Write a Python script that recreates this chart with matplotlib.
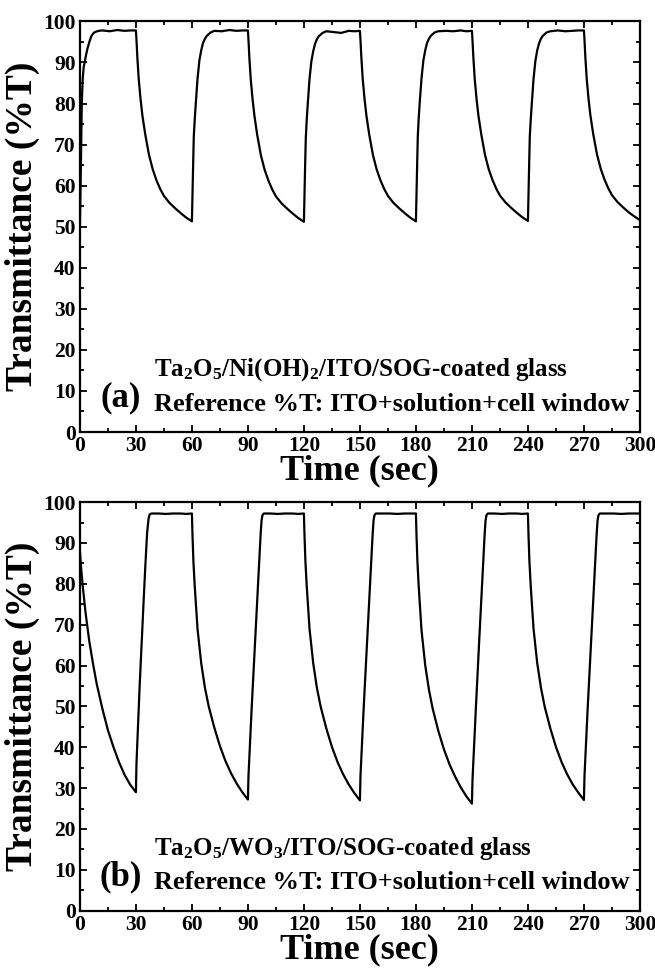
import numpy as np
import matplotlib
matplotlib.use("Agg")
import matplotlib.pyplot as plt

plt.rcParams['font.family'] = ['Liberation Serif', 'DejaVu Serif']
plt.rcParams['font.weight'] = 'bold'
plt.rcParams['mathtext.fontset'] = 'custom'
plt.rcParams['mathtext.rm'] = 'Liberation Serif:bold'
plt.rcParams['mathtext.bf'] = 'Liberation Serif:bold'
plt.rcParams['mathtext.it'] = 'Liberation Serif:bold'

# ---- panel (a): Ta2O5/Ni(OH)2 ----
# bleaching steps (start at 0, 60, 120, 180, 240 s)
a_rise_start = [0, 60, 120, 180, 240]
a_rise_dt = [0, 0.3, 0.6, 1, 1.5, 2, 3, 4, 5, 6, 7, 8, 10, 12, 16, 20, 24, 27, 30]
a_rise = [
    [50.0, 58, 67, 80, 86, 88.8, 91.2, 93.3, 94.9, 96.3, 97.0, 97.4, 97.7, 97.8, 97.6, 97.9, 97.7, 97.8, 97.8],
    [51.3, 58, 64, 72, 76, 79.5, 86, 90.5, 93.0, 94.8, 95.8, 96.5, 97.3, 97.7, 97.6, 97.9, 97.7, 97.8, 97.8],
    [51.2, 58, 64, 71.5, 76, 79.5, 86, 90.3, 92.8, 94.6, 95.7, 96.4, 97.2, 97.6, 97.4, 97.2, 97.7, 97.6, 97.7],
    [51.3, 58, 64, 72, 76.5, 80, 86.2, 90.5, 93.0, 94.8, 95.8, 96.5, 97.3, 97.6, 97.7, 97.6, 97.8, 97.6, 97.7],
    [51.4, 58, 64, 72, 76, 79.5, 86, 90.4, 93.0, 94.7, 95.8, 96.5, 97.3, 97.6, 97.8, 97.6, 97.7, 97.8, 97.8],
]
# colouring steps (start at 30, 90, 150, 210, 270 s)
a_decay_start = [30, 90, 150, 210, 270]
a_decay_dt = [0, 0.3, 0.8, 1.5, 2.5, 3.5, 5, 7, 9, 11, 13, 15, 18, 21, 24, 27, 30]
a_decay = [
    [97.8, 95.5, 91, 86, 81, 77, 72.5, 67.5, 64.0, 61.3, 59.2, 57.5, 55.8, 54.5, 53.3, 52.2, 51.3],
    [97.8, 95.5, 91, 86, 81, 77, 72.3, 67.3, 63.8, 61.2, 59.1, 57.4, 55.7, 54.4, 53.2, 52.1, 51.2],
    [97.7, 95.4, 91, 86, 81, 77, 72.4, 67.4, 63.9, 61.3, 59.2, 57.5, 55.8, 54.5, 53.3, 52.2, 51.3],
    [97.7, 95.4, 91, 86, 81, 77, 72.5, 67.5, 64.0, 61.4, 59.3, 57.6, 55.9, 54.6, 53.4, 52.3, 51.4],
    [97.8, 95.5, 91, 86, 81, 77, 72.5, 67.6, 64.1, 61.5, 59.4, 57.7, 56.0, 54.7, 53.5, 52.5, 51.6],
]

# ---- panel (b): Ta2O5/WO3 ----
b_decay_start = [0, 60, 120, 180, 240]
b_decay_dt = [0, 0.3, 0.8, 1.5, 3, 5, 7, 9, 12, 15, 18, 21, 24, 27, 30]
b_decay = [
    [88.0, 86, 83, 79.5, 73, 66, 60.5, 55.5, 49.5, 44.2, 40.0, 36.3, 33.2, 30.8, 29.0],
    [97.2, 92, 85.5, 79.5, 69, 60.5, 54.5, 50.0, 44.8, 40.3, 36.6, 33.6, 31.1, 29.0, 27.2],
    [97.2, 92, 85.5, 79.5, 69, 60.5, 54.4, 49.9, 44.6, 40.1, 36.4, 33.4, 30.9, 28.8, 27.0],
    [97.2, 92, 85.5, 79.3, 68.6, 60.0, 54.0, 49.4, 44.0, 39.5, 35.8, 32.8, 30.2, 28.0, 26.2],
    [97.2, 92, 85.5, 79.5, 69, 60.5, 54.5, 49.9, 44.6, 40.1, 36.4, 33.4, 30.9, 28.9, 27.1],
]
b_rise_start = [30, 90, 150, 210, 270]
b_rise_dt = [0, 0.3, 1, 2, 3, 4, 5, 6, 6.8, 7.3, 7.8, 8.5, 12, 16, 20, 24, 27, 30]
b_rise = [
    [29.0, 36, 44, 55, 65, 74.5, 84, 92.5, 96.0, 96.9, 97.1, 97.2, 97.2, 97.1, 97.2, 97.2, 97.1, 97.2],
    [27.2, 33, 40, 49.5, 58.5, 67.5, 76.5, 85, 92.0, 95.5, 96.8, 97.2, 97.2, 97.1, 97.2, 97.2, 97.1, 97.2],
    [27.0, 33, 40, 49.5, 58.5, 67.5, 76.5, 85, 92.0, 95.5, 96.8, 97.2, 97.2, 97.2, 97.1, 97.2, 97.2, 97.2],
    [26.2, 32, 39, 48.5, 58, 67, 76, 85, 92.0, 95.5, 96.8, 97.2, 97.2, 97.1, 97.2, 97.2, 97.1, 97.2],
    [27.1, 33, 40, 49.5, 58.5, 67.5, 76.5, 85, 92.0, 95.5, 96.8, 97.2, 97.2, 97.2, 97.1, 97.2, 97.2, 97.2],
]


def build(starts1, dt1, vals1, starts2, dt2, vals2):
    segs = []
    for s, v in zip(starts1, vals1):
        segs.append((s, np.array(dt1) + s, np.array(v)))
    for s, v in zip(starts2, vals2):
        segs.append((s, np.array(dt2) + s, np.array(v)))
    segs.sort(key=lambda x: x[0])
    t = np.concatenate([x[1] for x in segs])
    y = np.concatenate([x[2] for x in segs])
    return t, y


ta, ya = build(a_rise_start, a_rise_dt, a_rise, a_decay_start, a_decay_dt, a_decay)
tb, yb = build(b_decay_start, b_decay_dt, b_decay, b_rise_start, b_rise_dt, b_rise)

fig = plt.figure(figsize=(6.55, 9.73), dpi=100)
ax1 = fig.add_axes([0.122, 0.556, 0.855, 0.422])
ax2 = fig.add_axes([0.122, 0.064, 0.855, 0.420])

panels = [
    (ax1, ta, ya, 'Ta$_2$O$_5$/Ni(OH)$_2$/ITO/SOG-coated glass', '(a)'),
    (ax2, tb, yb, 'Ta$_2$O$_5$/WO$_3$/ITO/SOG-coated glass', '(b)'),
]

for ax, t, y, title, tag in panels:
    ax.plot(t, y, color='black', lw=1.6)
    ax.set_xlim(0, 300)
    ax.set_ylim(0, 100)
    ax.set_xticks(np.arange(0, 301, 30))
    ax.set_xticks(np.arange(0, 301, 15), minor=True)
    ax.set_yticks(np.arange(0, 101, 10))
    ax.set_yticks(np.arange(0, 101, 5), minor=True)
    ax.tick_params(which='both', direction='in', top=True, right=True, width=1.3)
    ax.tick_params(which='major', length=5, labelsize=15.5, pad=3)
    ax.tick_params(which='minor', length=3)
    for lab in ax.get_xticklabels() + ax.get_yticklabels():
        lab.set_fontweight('bold')
    for sp in ax.spines.values():
        sp.set_linewidth(1.6)
    ax.set_xlabel('Time (sec)', fontsize=26, fontweight='bold', labelpad=-1)
    ax.set_ylabel('Transmittance (%T)', fontsize=27, fontweight='bold', labelpad=2)
    ax.text(39.5, 15.2, title, fontsize=18, fontweight='bold', ha='left', va='center')
    ax.text(39.5, 6.8, 'Reference %T: ITO+solution+cell window', fontsize=19,
            fontweight='bold', ha='left', va='center')
    ax.text(22, 8.3, tag, fontsize=25, fontweight='bold', ha='center', va='center')

fig.savefig('out.png', dpi=100)
